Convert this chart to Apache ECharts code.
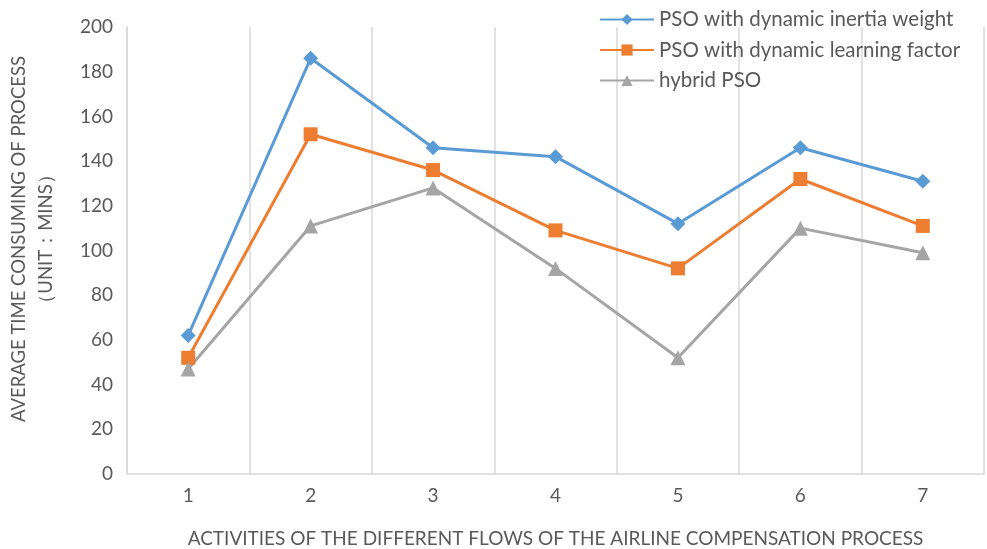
<!DOCTYPE html>
<html><head><meta charset="utf-8">
<script src="https://cdn.jsdelivr.net/npm/echarts@6/dist/echarts.min.js"></script>
<style>html,body{margin:0;padding:0;background:#fff}#c{width:987px;height:549px}</style>
</head><body><div id="c"></div>
<script>
const categories = ['1','2','3','4','5','6','7'];
const inertia = [62, 186, 146, 142, 112, 146, 131];
const learning = [52, 152, 136, 109, 92, 132, 111];
const hybrid = [47, 111, 128, 92, 52, 110, 99];
const seriesNames = ['PSO with dynamic inertia weight','PSO with dynamic learning factor','hybrid PSO'];
const yTitle = 'AVERAGE TIME CONSUMING OF PROCESS\n（UNIT：MINS）';
const xTitle = 'ACTIVITIES OF THE DIFFERENT FLOWS OF THE AIRLINE COMPENSATION PROCESS';

const font = 'Lato, "Open Sans", sans-serif';
const txt = '#595959';
const chart = echarts.init(document.getElementById('c'), null, {renderer:'canvas'});
function mk(name, data, color, symbol, size){
  return {name, type:'line', data, symbol, symbolSize:size, color,
    lineStyle:{width:3, color}, itemStyle:{color}, z: 2};
}
chart.setOption({
  animation:false,
  textStyle:{fontFamily:font},
  grid:{left:127, right:3, top:27, bottom:75, containLabel:false, outerBoundsMode:'none'},
  legend:{orient:'vertical', left:594, top:4, itemWidth:54, itemHeight:14, itemGap:9.5,
    textStyle:{fontFamily:font, fontSize:20.5, lineHeight:20, color:txt},
    data:seriesNames},
  xAxis:{type:'category', data:categories, boundaryGap:true,
    axisLine:{lineStyle:{color:'#d9d9d9', width:1.5}},
    axisTick:{show:false},
    splitLine:{show:true, lineStyle:{color:'#d9d9d9', width:1.5}},
    axisLabel:{fontFamily:font, fontSize:19, color:txt, margin:12},
    name:xTitle, nameLocation:'middle', nameGap:55,
    nameTextStyle:{fontFamily:font, fontSize:19, color:txt}},
  yAxis:{type:'value', min:0, max:200, interval:20,
    axisLine:{show:true, lineStyle:{color:'#d9d9d9', width:1.5}},
    axisTick:{show:false}, splitLine:{show:false},
    axisLabel:{fontFamily:font, fontSize:19, color:txt, margin:14}},
  graphic:[{type:'text', rotation:Math.PI/2, z:10,
    x:33, y:239,
    style:{text:yTitle, fontFamily:font, fontSize:18.5, fill:txt, align:'center', verticalAlign:'middle', lineHeight:27}}],
  series:[
    mk(seriesNames[0], inertia, '#5B9BD5', 'diamond', 15),
    mk(seriesNames[1], learning, '#ED7D31', 'rect', 14),
    mk(seriesNames[2], hybrid, '#A5A5A5', 'triangle', 15)
  ]
});
</script></body></html>
